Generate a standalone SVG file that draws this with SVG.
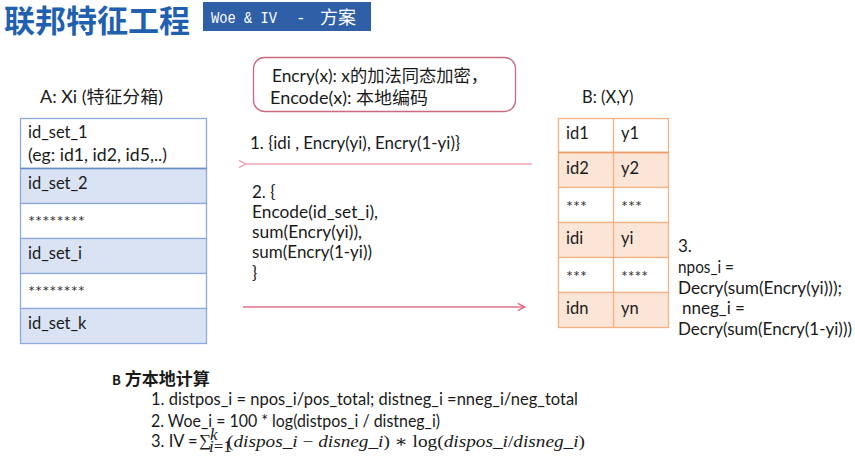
<svg xmlns="http://www.w3.org/2000/svg" width="855" height="463" viewBox="0 0 855 463">
  <style>
    .t { font-family: Lato, "Noto Sans", "Noto Sans CJK SC", sans-serif; font-size: 16.5px; fill: #1a1a1a; }
    .m { font-family: Lato, "Noto Sans", "Noto Sans CJK SC", sans-serif; font-size: 17px; fill: #1a1a1a; }
    .star { font-family: Lato, "Noto Sans", sans-serif; font-size: 16px; fill: #333; }
    .cellA { stroke: #8eaadb; stroke-width: 1.3; }
    .cellB { stroke: #f4b183; stroke-width: 1.3; }
    .math { font-family: "Liberation Serif", "DejaVu Serif", serif; font-size: 17px; }
  </style>
  <defs>
    <marker id="arrL" viewBox="0 0 10 10" refX="1" refY="5" markerWidth="9" markerHeight="9" orient="auto" markerUnits="userSpaceOnUse">
      <polyline points="9,1 1,5 9,9" fill="none" stroke="#f2a6b8" stroke-width="1.6"/>
    </marker>
    <marker id="arrR" viewBox="0 0 10 10" refX="9" refY="5" markerWidth="9" markerHeight="9" orient="auto" markerUnits="userSpaceOnUse">
      <polyline points="1,1 9,5 1,9" fill="none" stroke="#e0708a" stroke-width="1.6"/>
    </marker>
  </defs>
  <rect width="855" height="463" fill="#ffffff"/>

  <!-- heading -->
  <g id="title">
    <text x="4" y="32" font-family="'Noto Sans CJK SC', sans-serif" font-size="31" font-weight="bold" fill="#2160ae">联邦特征工程</text>
    <rect x="203" y="2" width="168" height="29" fill="#2f5fa7"/>
    <text x="211" y="23" font-family="'Liberation Mono', monospace" font-size="16.5" fill="#ffffff" textLength="66" lengthAdjust="spacingAndGlyphs">Woe &amp; IV</text>
    <text x="296" y="23" font-family="'Liberation Mono', monospace" font-size="16" fill="#ffffff">-</text>
    <text x="320" y="24" font-family="'Noto Sans CJK SC', sans-serif" font-size="18" fill="#ffffff">方案</text>
  </g>

  <!-- legend box -->
  <g id="legend">
    <rect x="253.5" y="57.5" width="262" height="54" rx="11" fill="#ffffff" stroke="#c96a80" stroke-width="1.3"/>
    <text class="m" x="272" y="82" textLength="216" lengthAdjust="spacingAndGlyphs">Encry(x): x的加法同态加密，</text>
    <text class="m" x="270" y="104" textLength="158" lengthAdjust="spacingAndGlyphs">Encode(x):  本地编码</text>
  </g>

  <!-- party A: binned feature -->
  <g id="partyA">
    <text class="m" x="40" y="103" textLength="123" lengthAdjust="spacingAndGlyphs">A:  Xi (特征分箱)</text>
    <rect class="cellA" x="20.5" y="118.5" width="186" height="50" fill="#ffffff"/>
    <rect class="cellA" x="20.5" y="168.5" width="186" height="35" fill="#dae3f3"/>
    <rect class="cellA" x="20.5" y="203.5" width="186" height="35" fill="#ffffff"/>
    <rect class="cellA" x="20.5" y="238.5" width="186" height="35" fill="#dae3f3"/>
    <rect class="cellA" x="20.5" y="273.5" width="186" height="35" fill="#ffffff"/>
    <rect class="cellA" x="20.5" y="308.5" width="186" height="35" fill="#dae3f3"/>
    <line x1="20.5" y1="168.5" x2="206.5" y2="168.5" stroke="#6f8fc8" stroke-width="1.5"/>
    <text class="t" x="28" y="138">id_set_1</text>
    <text class="t" x="28" y="161" textLength="139" lengthAdjust="spacingAndGlyphs">(eg: id1, id2, id5,..)</text>
    <text class="t" x="28" y="189">id_set_2</text>
    <text class="star" x="28" y="227" textLength="57" lengthAdjust="spacingAndGlyphs">********</text>
    <text class="t" x="28" y="259">id_set_i</text>
    <text class="star" x="28" y="297" textLength="57" lengthAdjust="spacingAndGlyphs">********</text>
    <text class="t" x="28" y="329">id_set_k</text>
  </g>

  <!-- party B: ids and labels -->
  <g id="partyB">
    <text class="t" x="582" y="103">B: (X,Y)</text>
    <rect class="cellB" x="558.5" y="118.5" width="110" height="34" fill="#ffffff"/>
    <rect class="cellB" x="558.5" y="152.5" width="110" height="35" fill="#fbe5d6"/>
    <rect class="cellB" x="558.5" y="187.5" width="110" height="35" fill="#ffffff"/>
    <rect class="cellB" x="558.5" y="222.5" width="110" height="35" fill="#fbe5d6"/>
    <rect class="cellB" x="558.5" y="257.5" width="110" height="35" fill="#ffffff"/>
    <rect class="cellB" x="558.5" y="292.5" width="110" height="35" fill="#fbe5d6"/>
    <line class="cellB" x1="613.5" y1="118.5" x2="613.5" y2="327.5"/>
    <line x1="558.5" y1="152.5" x2="668.5" y2="152.5" stroke="#ef9a60" stroke-width="1.5"/>
    <text class="t" x="566" y="139">id1</text><text class="t" x="621" y="139">y1</text>
    <text class="t" x="566" y="174">id2</text><text class="t" x="621" y="174">y2</text>
    <text class="star" x="566" y="212" textLength="21" lengthAdjust="spacingAndGlyphs">***</text><text class="star" x="621" y="212" textLength="21" lengthAdjust="spacingAndGlyphs">***</text>
    <text class="t" x="566" y="244">idi</text><text class="t" x="621" y="244">yi</text>
    <text class="star" x="566" y="282" textLength="21" lengthAdjust="spacingAndGlyphs">***</text><text class="star" x="621" y="282" textLength="27" lengthAdjust="spacingAndGlyphs">****</text>
    <text class="t" x="566" y="314">idn</text><text class="t" x="621" y="314">yn</text>
  </g>

  <!-- step 3 on party B -->
  <g id="step3">
    <text class="m" x="678" y="252">3.</text>
    <text class="m" x="678" y="273" textLength="56" lengthAdjust="spacingAndGlyphs">npos_i =</text>
    <text class="m" x="678" y="294" textLength="164" lengthAdjust="spacingAndGlyphs">Decry(sum(Encry(yi)));</text>
    <text class="m" x="682" y="314" textLength="63" lengthAdjust="spacingAndGlyphs">nneg_i =</text>
    <text class="m" x="678" y="335" textLength="174" lengthAdjust="spacingAndGlyphs">Decry(sum(Encry(1-yi)))</text>
  </g>

  <!-- messages exchanged between A and B -->
  <g id="connectors">
    <line x1="532" y1="164" x2="246" y2="164" stroke="#f2a6b8" stroke-width="1.4" marker-end="url(#arrL)"/>
    <line x1="243" y1="307" x2="525" y2="307" stroke="#e0708a" stroke-width="1.4" marker-end="url(#arrR)"/>
    <text class="m" x="250" y="149" textLength="210" lengthAdjust="spacingAndGlyphs">1. {idi , Encry(yi), Encry(1-yi)}</text>
    <text class="m" x="252" y="198">2.  {</text>
    <text class="m" x="252" y="218" textLength="126" lengthAdjust="spacingAndGlyphs">Encode(id_set_i),</text>
    <text class="m" x="252" y="238" textLength="110" lengthAdjust="spacingAndGlyphs">sum(Encry(yi)),</text>
    <text class="m" x="252" y="258" textLength="120" lengthAdjust="spacingAndGlyphs">sum(Encry(1-yi))</text>
    <text class="m" x="252" y="279">}</text>
  </g>

  <!-- local computation on party B -->
  <g id="localCalc">
    <text x="112" y="385" font-family="'Noto Sans CJK SC', sans-serif" font-size="17" font-weight="bold" fill="#1a1a1a"><tspan font-size="13">B</tspan> 方本地计算</text>
    <text class="t" x="151" y="405" textLength="427" lengthAdjust="spacingAndGlyphs">1. distpos_i = npos_i/pos_total;  distneg_i =nneg_i/neg_total</text>
    <text class="t" x="151" y="427" textLength="289" lengthAdjust="spacingAndGlyphs">2. Woe_i = 100 * log(distpos_i / distneg_i)</text>
    <!-- IV formula: label, summation with limits, summand -->
    <text class="t" y="447"><tspan x="151">3. IV =</tspan><tspan class="math" x="199" y="446" font-size="14">∑</tspan><tspan class="math" x="210" y="440" font-size="9" font-style="italic">k</tspan><tspan class="math" x="209" y="452" font-size="9"><tspan font-style="italic">i</tspan>=1</tspan><tspan class="math" x="227" y="447" textLength="358" lengthAdjust="spacingAndGlyphs">(<tspan font-style="italic">dispos_i</tspan>  − <tspan font-style="italic">disneg_i</tspan>) ∗ log(<tspan font-style="italic">dispos_i</tspan>/<tspan font-style="italic">disneg_i</tspan>)</tspan></text>
  </g>
</svg>
